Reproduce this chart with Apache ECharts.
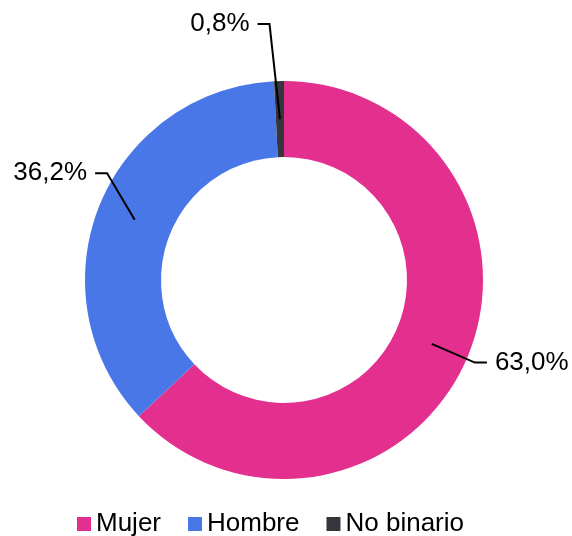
<!DOCTYPE html>
<html>
<head>
<meta charset="utf-8">
<script src="https://cdn.jsdelivr.net/npm/echarts@6/dist/echarts.min.js"></script>
<style>
  html, body { margin: 0; padding: 0; background: #fff; }
  #chart { width: 572px; height: 536px; }
</style>
</head>
<body>
<div id="chart"></div>
<script>
// datos del gráfico
var categories = ['Mujer', 'Hombre', 'No binario'];
var values = [63.0, 36.2, 0.8];
var colors = ['#E3308F', '#4A77E7', '#35353D'];

// líneas de etiqueta: largo radial, tramo horizontal y desplazamiento de la etiqueta
var lineLength = [47, 47, 97];
var lineLength2 = [12, 12, 12];
var labelDx = [0, 16, -8];
var labelDy = [0, -29, 2];

var CX = 284, CY = 280, R_IN = 123, R_OUT = 199;
var R_MID = (R_IN + R_OUT) / 2;
var FONT = 'Liberation Sans, Arial, sans-serif';

var myChart = echarts.init(document.getElementById('chart'));

var fmt = function (v) {
    return v.toFixed(1).replace('.', ',') + '%';
};

var option = {
    animation: false,
    textStyle: { fontFamily: FONT },
    legend: {
        data: categories,
        left: 77,
        top: 511,
        padding: 0,
        icon: 'rect',
        itemWidth: 14,
        itemHeight: 14,
        itemGap: 27,
        textStyle: { fontSize: 26, color: '#000', fontFamily: FONT }
    },
    series: [{
        // anillo visible
        type: 'pie',
        center: [CX, CY],
        radius: [R_IN, R_OUT],
        startAngle: 90,
        clockwise: true,
        label: { show: false },
        labelLine: { show: false },
        itemStyle: { borderWidth: 0 },
        emphasis: { disabled: true },
        data: categories.map(function (name, i) {
            return { name: name, value: values[i], itemStyle: { color: colors[i] } };
        })
    }, {
        // anillo invisible encima: la línea de etiqueta arranca en medio del anillo
        type: 'pie',
        z: 5,
        silent: true,
        center: [CX, CY],
        radius: [R_IN, R_MID],
        startAngle: 90,
        clockwise: true,
        avoidLabelOverlap: false,
        label: {
            show: true,
            position: 'outside',
            fontSize: 26,
            color: '#000',
            fontFamily: FONT,
            distanceToLabelLine: 8,
            formatter: function (p) { return fmt(p.value); }
        },
        labelLine: {
            show: true,
            lineStyle: { color: '#000', width: 2 }
        },
        labelLayout: function (params) {
            var pts = params.labelLinePoints;
            var i = params.dataIndex;
            var dx = labelDx[i], dy = labelDy[i];
            if (!pts || (!dx && !dy)) return {};
            return {
                dx: dx,
                dy: dy,
                labelLinePoints: [
                    pts[0],
                    [pts[1][0] + dx, pts[1][1] + dy],
                    [pts[2][0] + dx, pts[2][1] + dy]
                ]
            };
        },
        itemStyle: { color: 'rgba(0,0,0,0)', borderWidth: 0 },
        emphasis: { disabled: true },
        data: categories.map(function (name, i) {
            return {
                name: name,
                value: values[i],
                labelLine: { length: lineLength[i], length2: lineLength2[i] }
            };
        })
    }]
};

myChart.setOption(option);
</script>
</body>
</html>
